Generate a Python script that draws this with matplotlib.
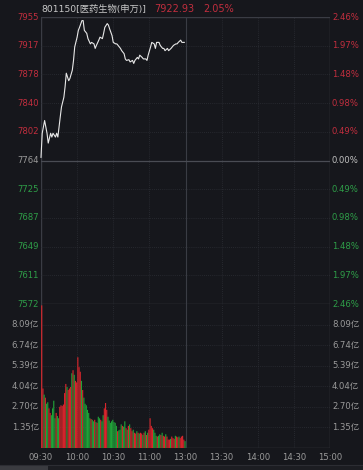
import matplotlib
matplotlib.use("Agg")
import matplotlib.pyplot as plt
from matplotlib.transforms import blended_transform_factory
from matplotlib.patches import Rectangle

plt.rcParams['font.family'] = ['DejaVu Sans', 'Noto Sans CJK SC']

# ---------------- data ----------------
title_name = "801150[医药生物(申万)]"
last_price = "7922.93"
last_pct = "2.05%"
pre_close = 7763.8

price_minutes = [0, 1, 3, 5, 6, 8, 9, 10, 12, 13, 14, 16, 17, 19, 20, 21, 23, 24, 26, 27,
                 28, 30, 31, 32, 34, 35, 36, 38, 39, 41, 42, 44, 45, 46, 48, 49, 51, 52, 53,
                 55, 56, 57, 59, 60, 62, 63, 64, 66, 67, 69, 70, 71, 73, 74, 76, 77, 78, 80,
                 81, 82, 84, 85, 87, 88, 89, 91, 92, 94, 95, 96, 98, 99, 101, 102, 103, 105,
                 106, 108, 109, 110, 112, 113, 114, 116, 117, 119]
prices = [7768, 7800, 7817, 7800, 7787, 7800, 7795, 7800, 7795, 7800, 7795, 7822, 7835, 7848,
          7862, 7880, 7870, 7873, 7884, 7897, 7915, 7928, 7937, 7941, 7950, 7950, 7937, 7933,
          7926, 7919, 7921, 7919, 7913, 7917, 7924, 7928, 7926, 7933, 7941, 7946, 7944, 7939,
          7930, 7921, 7919, 7919, 7917, 7913, 7910, 7906, 7899, 7897, 7898, 7895, 7897, 7893,
          7897, 7901, 7899, 7904, 7901, 7899, 7899, 7897, 7904, 7915, 7921, 7919, 7913, 7921,
          7921, 7917, 7913, 7913, 7910, 7913, 7910, 7913, 7915, 7917, 7919, 7919, 7921, 7924,
          7921, 7921]

volumes = [9.35, 3.9, 3.5, 3.3, 2.9, 3.0, 2.6, 2.3, 2.15, 2.6,
           3.1, 1.95, 2.3, 2.1, 1.95, 2.7, 2.8, 2.75, 2.85, 3.6,
           4.2, 4.0, 3.8, 3.9, 4.0, 4.9, 5.1, 4.8, 4.4, 4.3,
           5.95, 5.3, 5.0, 4.4, 3.8, 3.3, 2.9, 2.8, 2.5, 2.3,
           1.95, 1.9, 1.85, 1.75, 1.85, 1.7, 1.65, 2.05, 1.95, 1.85,
           1.75, 2.15, 2.6, 2.95, 2.5, 2.05, 1.8, 1.65, 1.75, 1.85,
           1.7, 1.65, 1.45, 1.1, 1.15, 1.2, 1.55, 1.45, 1.4, 1.75,
           1.3, 1.2, 1.45, 1.55, 1.3, 1.1, 1.2, 1.0, 0.95, 1.1,
           1.0, 0.95, 1.0, 0.95, 0.85, 1.0, 1.1, 0.85, 1.0, 1.2,
           1.95, 1.45, 1.3, 1.2, 1.0, 0.8, 0.75, 0.8, 0.9, 0.85,
           1.0, 0.8, 0.75, 0.9, 0.75, 0.55, 0.55, 0.6, 0.75, 0.65,
           0.6, 0.8, 0.75, 0.7, 0.75, 0.65, 0.75, 0.8, 0.55, 0.45]
vol_dirs = ("rrgrggrrgg" "ggrggrrrrr" "rgrrrgrgrr" "rrrgrggggg" "grggrgrggr"
            "ggrrrggggg" "gggrgggrgg" "rgrgrrgrrg" "rgrrgrgrgr" "rrrgggrggr"
            "grrgrrrgrr" "rgrrgrrrrg")

price_ticks = [7955, 7917, 7878, 7840, 7802, 7764, 7725, 7687, 7649, 7611, 7572]
pct_ticks = ["2.46%", "1.97%", "1.48%", "0.98%", "0.49%", "0.00%",
             "0.49%", "0.98%", "1.48%", "1.97%", "2.46%"]
vol_ticks = [1.35, 2.70, 4.04, 5.39, 6.74, 8.09]
vol_labels = ["1.35亿", "2.70亿", "4.04亿", "5.39亿", "6.74亿", "8.09亿"]
time_labels = ["09:30", "10:00", "10:30", "11:00", "13:00", "13:30", "14:00", "14:30", "15:00"]

# ---------------- style ----------------
W, H = 363, 470
BG = "#16171c"
RED = "#c12e3e"
GREEN = "#2e9e48"
GREY = "#9a9a9a"
GRID = "#2c2e35"
BAR_RED = "#d8262c"
BAR_GREEN = "#20a238"

fig = plt.figure(figsize=(W / 100, H / 100), dpi=100, facecolor=BG)

def fx(px):
    return px / W

def fy(py):
    return 1 - py / H

L, R = 41, 330
TOP, MID, BOT = 17, 304, 448

ax = fig.add_axes([fx(L), fy(MID), fx(R - L), (MID - TOP) / H])
axv = fig.add_axes([fx(L), fy(BOT), fx(R - L), (BOT - MID) / H])

for a in (ax, axv):
    a.set_facecolor(BG)
    a.set_xlim(0, 240)
    a.set_xticks([])
    a.set_yticks([])
    for s in a.spines.values():
        s.set_visible(False)

ylo = pre_close * (1 - 0.0246)
yhi = pre_close * (1 + 0.0246)
ax.set_ylim(ylo, yhi)
axv.set_ylim(0, 9.44)

# grid lines
for t in range(30, 240, 30):
    if t == 120:
        continue
    for a in (ax, axv):
        a.axvline(t, color=GRID, lw=0.6, ls=(0, (1, 1.5)), zorder=0)
for a in (ax, axv):
    a.axvline(120, color="#3a3c44", lw=0.8, zorder=0)
    a.axvline(0, color="#3a3c44", lw=1.0, zorder=0)
    a.axvline(240, color="#3a3c44", lw=1.0, zorder=0)

for i, p in enumerate(price_ticks):
    v = pre_close * (1 + 0.0246 * (5 - i) / 5)
    if i == 5:
        ax.axhline(v, color="#4a4c54", lw=0.9, zorder=0)
    elif i in (0, 10):
        ax.axhline(v, color="#3a3c44", lw=1.0, zorder=0)
    else:
        ax.axhline(v, color=GRID, lw=0.6, ls=(0, (1, 1.5)), zorder=0)
for v in vol_ticks:
    axv.axhline(v, color=GRID, lw=0.6, ls=(0, (1, 1.5)), zorder=0)
axv.axhline(0, color="#3a3c44", lw=1.0, zorder=0)

# price line
ax.plot(price_minutes, prices, color="#e8e8e8", lw=0.8, zorder=3, clip_on=False)

# volume bars
colors = [BAR_RED if c == "r" else BAR_GREEN for c in vol_dirs]
axv.bar([m + 0.6 for m in range(len(volumes))], volumes, width=0.95,
        color=colors, linewidth=0, zorder=3, snap=False, clip_on=False)

# price labels
tl = blended_transform_factory(fig.transFigure, ax.transData)
fs = 6.1
for i, (p, pc) in enumerate(zip(price_ticks, pct_ticks)):
    v = pre_close * (1 + 0.0246 * (5 - i) / 5)
    col = RED if i < 5 else (GREY if i == 5 else GREEN)
    ax.text(fx(39), v, str(p), transform=tl, ha="right", va="center",
            color=col, fontsize=fs)
    ax.text(fx(332), v, pc, transform=tl, ha="left", va="center",
            color=(col if i != 5 else "#c0c0c0"), fontsize=fs)

tv = blended_transform_factory(fig.transFigure, axv.transData)
for v, lab in zip(vol_ticks, vol_labels):
    axv.text(fx(39), v, lab, transform=tv, ha="right", va="center",
             color=GREY, fontsize=fs)
    axv.text(fx(332), v, lab, transform=tv, ha="left", va="center",
             color=GREY, fontsize=fs)

# time labels
tt = blended_transform_factory(axv.transData, fig.transFigure)
for i, lab in enumerate(time_labels):
    axv.text(i * 30, fy(457), lab, transform=tt, ha="center", va="center",
             color=GREY, fontsize=fs, clip_on=False)

# title
fig.text(fx(41), fy(9), title_name, color="#c8c8c8", fontsize=6.7,
         ha="left", va="center")
fig.text(fx(154), fy(9), last_price, color=RED, fontsize=7, ha="left", va="center")
fig.text(fx(203), fy(9), last_pct, color=RED, fontsize=7, ha="left", va="center")

# bottom tab strip
fig.add_artist(Rectangle((0, 0), 1, fy(465), transform=fig.transFigure,
                         facecolor="#1c1d22", edgecolor="none"))
fig.add_artist(Rectangle((0, 0), fx(48), fy(465), transform=fig.transFigure,
                         facecolor="#3a3b40", edgecolor="none"))
fig.add_artist(plt.Line2D([0, 1], [fy(464.5), fy(464.5)], transform=fig.transFigure,
                          color="#2c2d33", lw=0.8))

fig.savefig("out.png", dpi=100, facecolor=BG)
